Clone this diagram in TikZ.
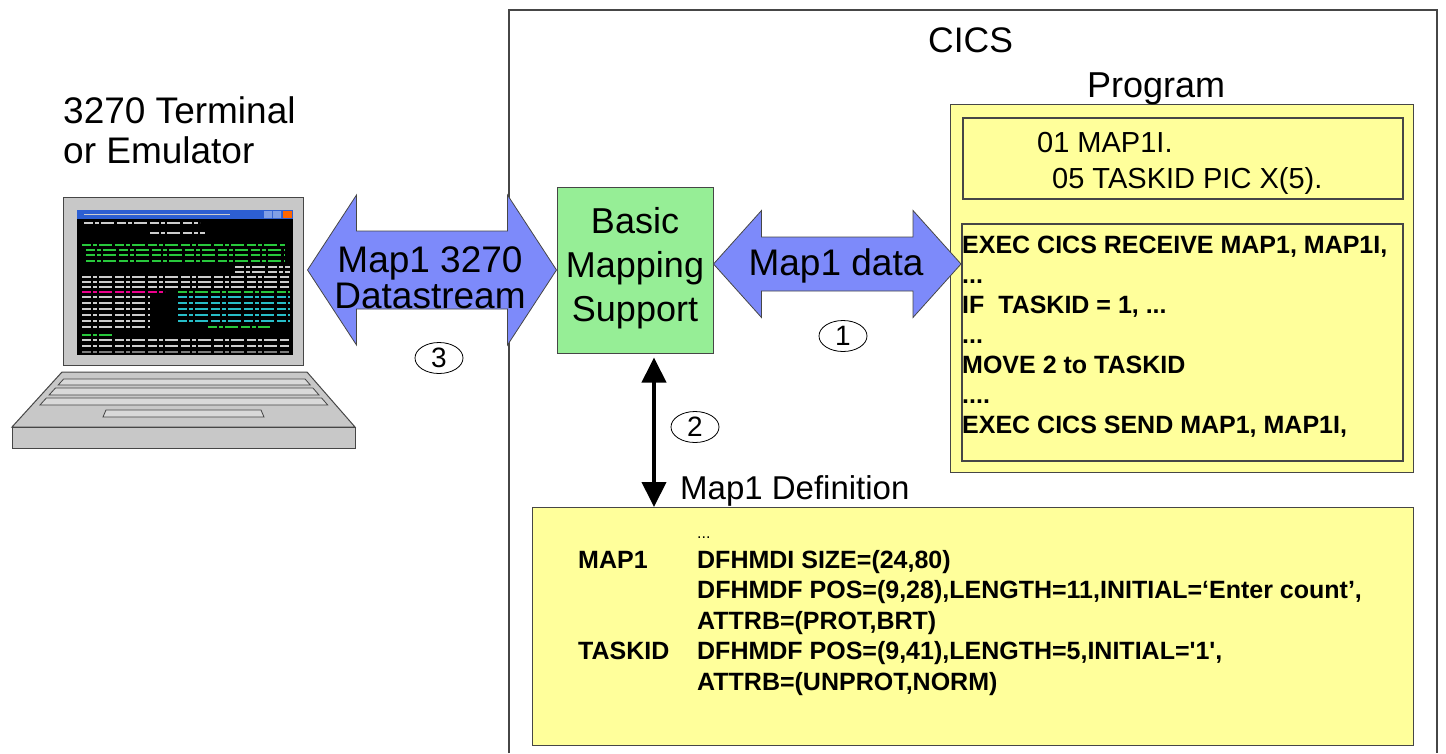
\documentclass[tikz,border=0pt]{standalone}
\usepackage{fontspec}
\setmainfont{Liberation Sans}
\usetikzlibrary{positioning,calc,arrows.meta,shapes.geometric}
\definecolor{mapblue}{RGB}{125,138,250}
\definecolor{bmsgreen}{RGB}{150,238,150}
\definecolor{noteyellow}{RGB}{255,255,155}
\definecolor{framegray}{RGB}{70,70,70}
\definecolor{padgray}{RGB}{200,200,200}
\definecolor{termgreen}{RGB}{40,200,60}
\definecolor{termwhite}{RGB}{205,205,205}
\definecolor{termcyan}{RGB}{40,190,200}
\definecolor{titleblue}{RGB}{45,95,210}
\newcommand\fsz[2]{\fontsize{#1}{#2}\selectfont}
% block arrow between two tips: head half height, shaft half height, head length
\newcommand\blockarrow[5]{%
  \draw[bluearrow] (#1) -- ++(#5,-#3) -- ++(0,#3-#4) -- ($(#2)+(-#5,-#4)$)
    -- ++(0,#4-#3) -- (#2) -- ++(-#5,#3) -- ++(0,#4-#3) -- ($(#1)+(#5,#4)$)
    -- ++(0,#3-#4) -- cycle;}
\tikzset{
  lbl/.style={inner sep=0pt, font=\fsz{36}{44}},
  bluearrow/.style={fill=mapblue, draw=framegray, line width=0.8pt, line join=miter},
  greenbox/.style={draw=framegray, fill=bmsgreen, line width=1pt, inner sep=0pt, align=center, font=\fsz{36}{44}},
  yellowbox/.style={draw=framegray, fill=noteyellow, line width=1.2pt, inner sep=0pt, anchor=north west},
  codebox/.style={draw=framegray, line width=1.5pt, inner sep=0pt, anchor=north west},
  codetext/.style={inner sep=0pt, anchor=base west, font=\bfseries\fsz{25}{30}},
  stepmark/.style={ellipse, draw, fill=white, line width=0.8pt, minimum width=48pt, minimum height=31pt, inner sep=0pt, font=\fsz{28}{28}},
  linkarrow/.style={line width=4pt, {Triangle[length=25pt,width=24pt]}-{Triangle[length=25pt,width=24pt]}},
  keyrow/.style={fill=padgray!70!white, draw=framegray, line width=0.8pt},
  termline/.style={line width=2.2pt, dash pattern=on 9pt off 2pt on 4pt off 2pt on 13pt off 3pt},
}
\begin{document}
\begin{tikzpicture}[x=1pt,y=-1pt]
\useasboundingbox (0,0) rectangle (1446,753);
%
\draw[framegray, line width=1.2pt] (509,753) |- (1437,10) -- (1437,753);
\node[lbl, anchor=base west, font=\fsz{35.5}{40}] (cicslbl) at (928,52) {CICS};
\node[lbl, anchor=base west, align=left, font=\fsz{37}{40}] (term) at (63,163) {3270 Terminal\\or Emulator};
%
% laptop
\draw[framegray, fill=padgray, line width=1pt] (63,197) rectangle (303,365);
\fill[black] (77,210) rectangle (293,355);
\fill[titleblue] (77,210) rectangle (293,219);
\draw[termwhite, line width=1.5pt] (84,214.5) -- (230,214.5);
\fill[titleblue!60!white] (264,211) rectangle (272,218) (273,211) rectangle (281,218);
\fill[orange!80!red] (283,211) rectangle (292,218);
\foreach \yy/\xa/\xb/\cc in {223/84/200/termwhite, 233/150/205/termwhite,
  245/82/285/termgreen, 250/86/285/termgreen, 255/86/285/termgreen, 261/86/285/termgreen,
  267/235/290/termwhite, 272/235/290/termwhite, 277/82/290/termwhite, 282/82/290/termwhite,
  287/82/290/termwhite, 292/82/165/magenta, 292/178/290/termgreen,
  297/82/150/termwhite, 297/178/290/termcyan, 303/82/150/termwhite, 303/178/290/termcyan,
  309/82/150/termwhite, 309/178/290/termcyan, 315/82/150/termwhite, 315/178/290/termcyan,
  321/82/150/termwhite, 321/178/290/termcyan, 327/82/150/termwhite, 327/208/270/termgreen,
  335/82/112/termgreen, 340/82/290/termwhite, 346/82/290/termwhite, 352/82/290/termwhite!60!black}
  \draw[termline, \cc] (\xa,\yy) -- (\xb,\yy);
\draw[framegray, fill=padgray, line width=1pt] (62,372) -- (307,372) -- (355,427) -- (12,427) -- cycle;
\draw[framegray, fill=padgray, line width=1pt] (12,427) rectangle (355,448);
\foreach \ya/\yb in {379/385,388/395,398/405}
  \draw[keyrow] ({70-0.91*(\ya-372)},\ya) -- ({299+0.87*(\ya-372)},\ya)
    -- ({299+0.87*(\yb-372)},\yb) -- ({70-0.91*(\yb-372)},\yb) -- cycle;
\draw[keyrow] (106,410) -- (261,410) -- (264,417) -- (103,417) -- cycle;
%
% program and map definition
\node[yellowbox, minimum width=463pt, minimum height=368pt] (prog) at (950,104) {};
\node[lbl, above=-1pt of prog, xshift=-26pt] (proglbl) {Program};
\node[codebox, minimum width=440pt, minimum height=81pt] (decl) at (962,117) {};
\node[codebox, minimum width=441pt, minimum height=237pt] (code) at (961,223) {};
\node[lbl, anchor=base west, align=left, font=\fsz{29}{36}] (decltxt) at (1037,188)
  {01 MAP1I.\\\hspace*{15pt}05 TASKID PIC X(5).};
\node[codetext, align=left] (codetxt) at (962,433) {EXEC CICS RECEIVE MAP1, MAP1I,\\...\\IF\ \ TASKID = 1, ...\\...\\MOVE 2 to TASKID\\....\\EXEC CICS SEND MAP1, MAP1I,};
\node[yellowbox, minimum width=881pt, minimum height=238pt] (mapdef) at (532,507) {};
\node[lbl, font=\fsz{33}{40}, above right=0pt and 148pt of mapdef.north west] (maplbl) {Map1 Definition};
\node[inner sep=0pt, anchor=base west, font=\fsz{16}{16}] (mapdots) at (697,538) {...};
\node[codetext, font=\bfseries\fsz{25}{30.5}] (maptxt) at (578,568) {\begin{tabular}[t]{@{}p{119pt}@{}l@{}}
  MAP1 & DFHMDI SIZE=(24,80)\\
   & DFHMDF POS=(9,28),LENGTH=11,INITIAL=‘Enter count’,\\
   & ATTRB=(PROT,BRT)\\
  TASKID & DFHMDF POS=(9,41),LENGTH=5,INITIAL=\textquotesingle1\textquotesingle,\\
   & ATTRB=(UNPROT,NORM)
  \end{tabular}};
%
% mapping support and the flows
\node[greenbox, minimum width=156pt, minimum height=166pt] (bms) at (635,270) {Basic\\Mapping\\Support\rule[-12pt]{0pt}{1pt}};
\coordinate (termtip) at ([xshift=-249pt]bms.west);
\coordinate (bmstip) at ([yshift=6pt]bms.east);
\coordinate (progtip) at (code.west |- bmstip);
\blockarrow{termtip}{bms.west}{75}{39}{49}
\blockarrow{bmstip}{progtip}{53.5}{27}{48}
\node[lbl, align=center, anchor=base, font=\fsz{37}{36}] (dslbl) at (430,308) {Map1 3270\\Datastream};
\node[lbl, anchor=base, font=\fsz{37}{40}] (datalbl) at (836,275) {Map1 data};
\draw[linkarrow, shorten <=4pt] ([xshift=19pt]bms.south) -- ([xshift=19pt]bms.south |- mapdef.north);
\node[stepmark] (s1) at (843,336) {1};
\node[stepmark] (s2) at (695,427) {2};
\node[stepmark] (s3) at (439,358) {3};
\end{tikzpicture}
\end{document}
